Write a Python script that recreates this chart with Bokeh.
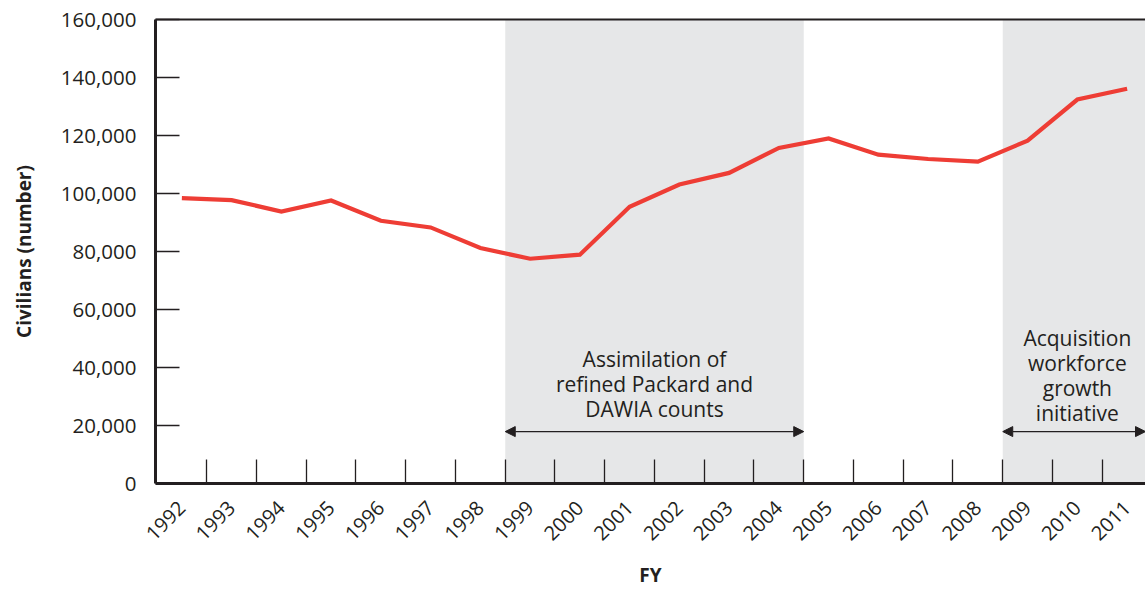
import math
from bokeh.plotting import figure
from bokeh.models import (Range1d, FixedTicker, NumeralTickFormatter, BoxAnnotation,
                          Label, Arrow, NormalHead, LinearAxis, ColumnDataSource)
from bokeh.embed import file_html
from bokeh.resources import INLINE

# ---- data ----
years = [1992, 1993, 1994, 1995, 1996, 1997, 1998, 1999, 2000, 2001,
         2002, 2003, 2004, 2005, 2006, 2007, 2008, 2009, 2010, 2011]
civilians = [98400, 97700, 93800, 97600, 90600, 88300, 81200, 77500, 78900, 95400,
             103100, 107100, 115700, 119000, 113400, 111900, 111000, 118200, 132400, 136100]
y_ticks = [0, 20000, 40000, 60000, 80000, 100000, 120000, 140000, 160000]
periods = [(1999, 2004), (2009, 2011)]
period_labels = ["Assimilation of\nrefined Packard and\nDAWIA counts",
                 "Acquisition\nworkforce\ngrowth\ninitiative"]
x_title = "FY"
y_title = "Civilians (number)"

FONT = "Open Sans"
INK = "#231F20"
RED = "#EE3D35"
SHADE = "#E6E7E8"

x_start = years[0] - 0.53
x_end = x_start + 990 / 49.75

p = figure(width=1145, height=590, output_backend="svg", toolbar_location=None,
           x_range=Range1d(x_start, x_end), y_range=Range1d(0, 160000),
           min_border_left=155, min_border_right=0, min_border_top=19, min_border_bottom=102)
p.outline_line_color = None
p.grid.grid_line_color = None
p.background_fill_color = "white"

# shaded periods
for (a, b) in periods:
    p.add_layout(BoxAnnotation(left=a - 0.5, right=b + 0.5, fill_color=SHADE, fill_alpha=1.0,
                               line_color=None, level="underlay"))

src = ColumnDataSource(dict(x=years, y=civilians))
p.line("x", "y", source=src, line_color=RED, line_width=4.2, line_join="miter")

# x axis
xa = p.xaxis[0]
xa.ticker = FixedTicker(ticks=years, minor_ticks=[y + 0.5 for y in years])
xa.major_label_orientation = math.pi / 4
xa.major_tick_in = 0
xa.major_tick_out = 0
xa.minor_tick_in = 24
xa.minor_tick_out = 0
xa.minor_tick_line_color = INK
xa.minor_tick_line_width = 1.3
xa.axis_line_width = 3
xa.axis_line_color = INK
xa.major_label_text_font = FONT
xa.major_label_text_font_size = "20px"
xa.major_label_text_color = INK
xa.major_label_standoff = 21
xa.axis_label = x_title
xa.axis_label_text_font = FONT
xa.axis_label_text_font_size = "19px"
xa.axis_label_text_font_style = "bold"
xa.axis_label_text_color = INK
xa.axis_label_standoff = 12

# y axis
ya = p.yaxis[0]
ya.ticker = FixedTicker(ticks=y_ticks)
ya.formatter = NumeralTickFormatter(format="0,0")
ya.major_tick_in = 24
ya.major_tick_out = 0
ya.major_tick_line_color = INK
ya.major_tick_line_width = 1.3
ya.minor_tick_line_color = None
ya.axis_line_width = 3
ya.axis_line_color = INK
ya.major_label_text_font = FONT
ya.major_label_text_font_size = "20.5px"
ya.major_label_text_color = INK
ya.major_label_standoff = 19
ya.axis_label = y_title
ya.axis_label_text_font = FONT
ya.axis_label_text_font_size = "19px"
ya.axis_label_text_font_style = "bold"
ya.axis_label_text_color = INK
ya.axis_label_standoff = 21

# top border
top = LinearAxis(ticker=FixedTicker(ticks=[]), axis_line_color=INK, axis_line_width=2,
                 major_tick_line_color=None, minor_tick_line_color=None)
p.add_layout(top, "above")

# annotations
text_y = [34300, 37200]
arrow_y = 17900
for i, ((a, b), txt) in enumerate(zip(periods, period_labels)):
    left = a - 0.5
    right = min(b + 0.5, x_end)
    p.add_layout(Label(x=(a - 0.5 + b + 0.5) / 2, y=text_y[i], text=txt,
                       text_align="center", text_baseline="middle",
                       text_font=FONT, text_font_size="21px", text_color=INK,
                       text_line_height=0.9))
    p.add_layout(Arrow(x_start=left, y_start=arrow_y, x_end=right, y_end=arrow_y,
                       line_color=INK, line_width=1.4,
                       start=NormalHead(size=10, fill_color=INK, line_color=INK, line_width=1),
                       end=NormalHead(size=10, fill_color=INK, line_color=INK, line_width=1)))

open("out.html", "w").write(file_html(p, INLINE))
